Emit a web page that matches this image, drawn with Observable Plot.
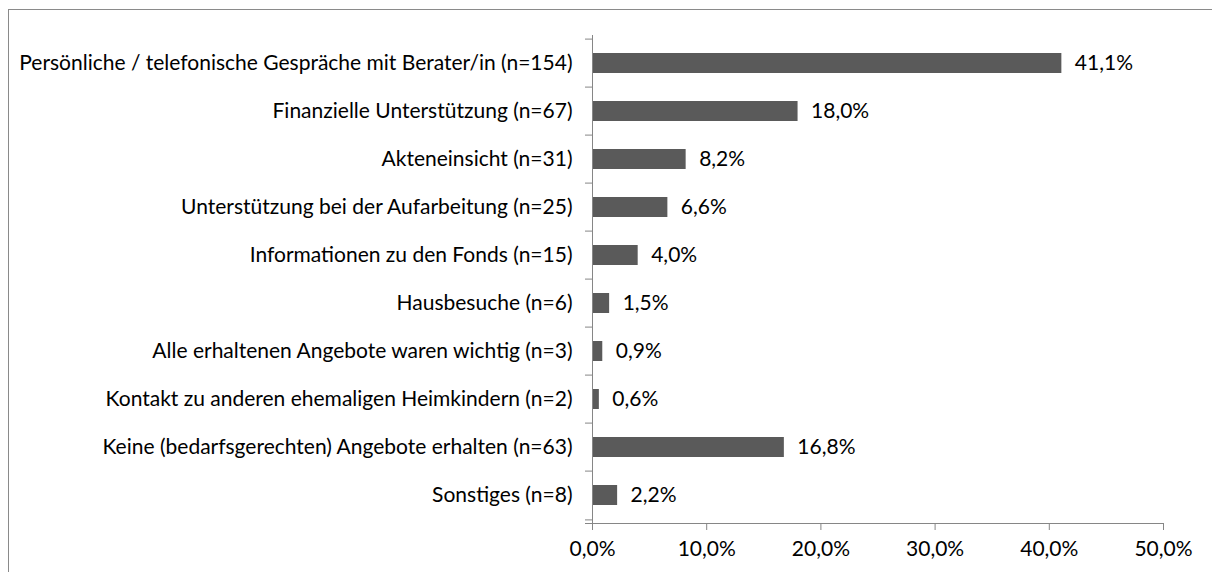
<!DOCTYPE html>
<html>
<head>
<meta charset="utf-8">
<script src="https://cdn.jsdelivr.net/npm/d3@7"></script>
<script src="https://cdn.jsdelivr.net/npm/@observablehq/plot@0.6"></script>
<style>
  html, body { margin: 0; padding: 0; background: #fff; }
  #wrap { position: relative; width: 1212px; height: 572px; overflow: hidden; }
  #border { position: absolute; left: 8px; top: 9px; right: -10px; bottom: -10px; border-left: 1px solid #8a8a8a; border-top: 1px solid #8a8a8a; }
  #chart { position: absolute; left: 0; top: 0; }
</style>
</head>
<body>
<div id="wrap"><div id="border"></div><div id="chart"></div></div>
<script>
const categories = [
  "Persönliche / telefonische Gespräche mit Berater/in (n=154)",
  "Finanzielle Unterstützung (n=67)",
  "Akteneinsicht (n=31)",
  "Unterstützung bei der Aufarbeitung (n=25)",
  "Informationen zu den Fonds (n=15)",
  "Hausbesuche (n=6)",
  "Alle erhaltenen Angebote waren wichtig (n=3)",
  "Kontakt zu anderen ehemaligen Heimkindern (n=2)",
  "Keine (bedarfsgerechten) Angebote erhalten (n=63)",
  "Sonstiges (n=8)"
];
const values = [41.1, 18.0, 8.2, 6.6, 4.0, 1.5, 0.9, 0.6, 16.8, 2.2];
const xTicks = [0, 10, 20, 30, 40, 50];

const data = categories.map((c, i) => ({category: c, value: values[i]}));
const fmt = v => v.toFixed(1).replace(".", ",") + "%";
const font = "Lato, sans-serif";
const fs = 21;
const halfStep = 24.4;

const plot = Plot.plot({
  width: 1212,
  height: 572,
  marginLeft: 592,
  marginRight: 49,
  marginTop: 35,
  marginBottom: 49,
  style: {fontFamily: font, fontSize: fs + "px", color: "#000", background: "transparent"},
  x: {domain: [0, 50]},
  y: {domain: categories, paddingInner: 0.59, paddingOuter: 0.295},
  marks: [
    Plot.barX(data, {x: "value", y: "category", fill: "#5a5a5a"}),
    Plot.text(data, {x: "value", y: "category", text: d => fmt(d.value), textAnchor: "start", dx: 13, fill: "#000", fontSize: fs}),
    Plot.frame({anchor: "left", stroke: "#868686"}),
    Plot.frame({anchor: "bottom", stroke: "#868686", insetLeft: -7}),
    Plot.axisY({tickSize: 7, dy: -halfStep, tickFormat: () => "", stroke: "#868686", strokeOpacity: 1, label: null}),
    Plot.axisY({ticks: [categories[categories.length - 1]], tickSize: 7, dy: halfStep, tickFormat: () => "", stroke: "#868686", strokeOpacity: 1, label: null}),
    Plot.axisY({tickSize: 0, tickPadding: 20, fill: "#000", fontSize: fs, label: null}),
    Plot.axisX({ticks: xTicks, tickSize: 7, tickPadding: 11, tickFormat: v => fmt(v), stroke: "#868686", strokeOpacity: 1, fill: "#000", fontSize: fs, label: null})
  ]
});
document.getElementById("chart").appendChild(plot);
</script>
</body>
</html>
